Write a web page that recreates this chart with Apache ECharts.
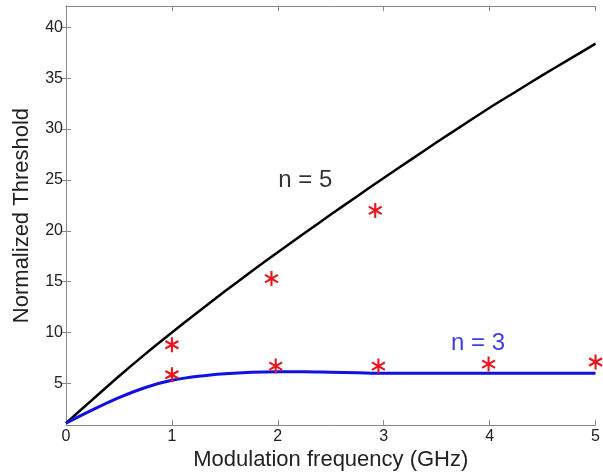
<!DOCTYPE html>
<html>
<head>
<meta charset="utf-8">
<script src="https://cdn.jsdelivr.net/npm/echarts@6/dist/echarts.min.js"></script>
<style>
  html, body { margin: 0; padding: 0; background: #fff; }
  #chart { width: 603px; height: 476px; }
</style>
</head>
<body>
<div id="chart"></div>
<script>
// model curves
const freq = [0, 0.25, 0.5, 0.75, 1, 1.25, 1.5, 1.75, 2, 2.25, 2.5, 2.75, 3, 3.25, 3.5, 3.75, 4, 4.25, 4.5, 4.75, 5]
const n5 = [1.1, 3.4, 5.7, 7.9, 10.0, 12.05, 14.05, 16.0, 17.9, 19.75, 21.6, 23.4, 25.2, 26.95, 28.7, 30.4, 32.1, 33.7, 35.3, 36.85, 38.4]
const n3 = [1.1, 2.4, 3.6, 4.6, 5.3, 5.7, 5.95, 6.1, 6.15, 6.15, 6.1, 6.05, 6.0, 6.0, 6.0, 6.0, 6.0, 6.0, 6.0, 6.0, 6.0]

// measured points (red asterisks)
const measX = [1.0, 1.0, 1.94, 1.98, 2.92, 2.95, 3.99, 5.0]
const measY = [8.8, 5.85, 15.3, 6.7, 22.0, 6.7, 6.9, 7.1]

const yTicks = [5, 10, 15, 20, 25, 30, 35, 40]

const labels = [
  {text: 'n = 5', x: 2.26, y: 25.0, color: '#000'},
  {text: 'n = 3', x: 3.89, y: 8.9, color: '#0a0ae0'},
]

const font = 'Liberation Sans, Arial, sans-serif'
const boxColor = '#888'

// asterisk marker built from three thin bars
const starPath = (() => {
  let d = ''
  ;[90, 30, 150].forEach(a => {
    const t = a * Math.PI / 180
    const L = 50, h = 7
    const cx = 50 + L * Math.cos(t), cy = 50 - L * Math.sin(t)
    const ex = 50 - L * Math.cos(t), ey = 50 + L * Math.sin(t)
    const nx = -Math.sin(t) * h, ny = -Math.cos(t) * h
    d += `M${(cx + nx).toFixed(2)} ${(cy + ny).toFixed(2)} L${(ex + nx).toFixed(2)} ${(ey + ny).toFixed(2)} L${(ex - nx).toFixed(2)} ${(ey - ny).toFixed(2)} L${(cx - nx).toFixed(2)} ${(cy - ny).toFixed(2)} Z `
  })
  return 'path://' + d
})()

const chart = echarts.init(document.getElementById('chart'), null, {renderer: 'canvas'})

const tickStyle = {show: true, inside: true, length: 5, lineStyle: {color: boxColor, width: 1}}

chart.setOption({
  backgroundColor: '#fff',
  animation: false,
  grid: {left: 66, right: 2, top: 6, bottom: 47},
  xAxis: [
    {
      type: 'value', min: 0, max: 5, interval: 1,
      name: 'Modulation frequency (GHz)', nameLocation: 'middle', nameGap: 21,
      nameTextStyle: {fontFamily: font, fontSize: 22, color: '#222'},
      axisLine: {show: true, lineStyle: {color: boxColor, width: 1}},
      axisTick: tickStyle,
      axisLabel: {fontFamily: font, fontSize: 16, color: '#222', margin: 3},
      splitLine: {show: false},
    },
    {
      type: 'value', min: 0, max: 5, interval: 1, position: 'top',
      axisLine: {show: true, lineStyle: {color: boxColor, width: 1}},
      axisTick: tickStyle,
      axisLabel: {show: false},
      splitLine: {show: false},
    },
  ],
  yAxis: [
    {
      type: 'value', min: 0.9, max: 42.1,
      name: 'Normalized Threshold', nameLocation: 'middle', nameGap: 33,
      nameTextStyle: {fontFamily: font, fontSize: 22, color: '#222'},
      axisLine: {show: true, lineStyle: {color: boxColor, width: 1}},
      axisTick: {...tickStyle, customValues: yTicks},
      axisLabel: {fontFamily: font, fontSize: 16, color: '#222', margin: 3, customValues: yTicks},
      splitLine: {show: false},
    },
    {
      type: 'value', min: 0.9, max: 42.1, position: 'right',
      axisLine: {show: true, lineStyle: {color: boxColor, width: 1}},
      axisTick: {...tickStyle, customValues: yTicks},
      axisLabel: {show: false},
      splitLine: {show: false},
    },
  ],
  series: [
    {
      name: 'n = 5', type: 'line', smooth: 0.3, showSymbol: false,
      data: freq.map((x, i) => [x, n5[i]]),
      lineStyle: {color: '#000', width: 2.5},
    },
    {
      name: 'n = 3', type: 'line', smooth: 0.3, showSymbol: false,
      data: freq.map((x, i) => [x, n3[i]]),
      lineStyle: {color: '#1010e0', width: 3},
    },
    {
      name: 'measured', type: 'scatter',
      data: measX.map((x, i) => [x, measY[i]]),
      symbol: starPath, symbolSize: [14, 15],
      itemStyle: {color: '#e8161b', opacity: 1},
      z: 5,
    },
    {
      name: 'labels', type: 'scatter', symbolSize: 0, silent: true,
      data: labels.map(l => ({
        value: [l.x, l.y],
        label: {
          show: true, position: 'inside', formatter: l.text, color: l.color,
          fontFamily: font, fontSize: 24, textBorderWidth: 0,
        },
      })),
    },
  ],
})
</script>
</body>
</html>
